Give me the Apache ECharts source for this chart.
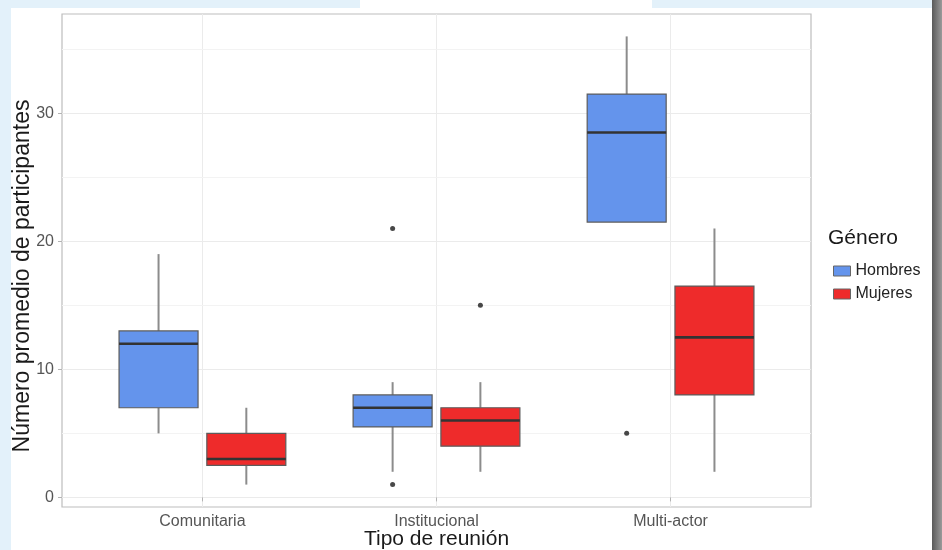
<!DOCTYPE html>
<html>
<head>
<meta charset="utf-8">
<script src="https://cdn.jsdelivr.net/npm/echarts@6/dist/echarts.min.js"></script>
<style>html,body{margin:0;padding:0;}#c{width:942px;height:550px;}</style>
</head>
<body>
<div id="c"></div>
<script>
// ---- data ----
const categories = ['Comunitaria', 'Institucional', 'Multi-actor'];
const groups = ['Hombres', 'Mujeres'];
// [min, Q1, median, Q3, max] per category
const hombresBox = [
  [5, 7, 12, 13, 19],
  [2, 5.5, 7, 8, 9],
  [21.5, 21.5, 28.5, 31.5, 36]
];
const mujeresBox = [
  [1, 2.5, 3, 5, 7],
  [2, 4, 6, 7, 9],
  [2, 8, 12.5, 16.5, 21]
];
const hombresOutliers = [[], [21, 1], [5]];
const mujeresOutliers = [[], [15], []];
const yTicks = [0, 10, 20, 30];
const yMinor = [5, 15, 25, 35];

// ---- style ----
const colors = {Hombres: '#6494ec', Mujeres: '#ee2b2b'};
const dodge = 0.1875;      // ggplot dodge offset (0.75/4)
const boxW = 0.3375;       // box width in category units

function boxItems(arr) {
  return arr.map((b, i) => [i + 1].concat(b));
}
function outlierPoints(arr, off) {
  const pts = [];
  arr.forEach((list, i) => list.forEach(v => pts.push([i + 1 + off, v])));
  return pts;
}
function makeRender(off, color) {
  return function (params, api) {
    const x = api.value(0) + off;
    const mn = api.value(1), q1 = api.value(2), md = api.value(3), q3 = api.value(4), mx = api.value(5);
    const l = api.coord([x - boxW / 2, q3]);
    const r = api.coord([x + boxW / 2, q1]);
    const c = api.coord([x, md]);
    const pMax = api.coord([x, mx]);
    const pMin = api.coord([x, mn]);
    const pQ3 = api.coord([x, q3]);
    const pQ1 = api.coord([x, q1]);
    const children = [];
    if (mx > q3) children.push({type: 'line', shape: {x1: pQ3[0], y1: pQ3[1], x2: pMax[0], y2: pMax[1]}, style: {stroke: '#8c8c8c', lineWidth: 2}});
    if (mn < q1) children.push({type: 'line', shape: {x1: pQ1[0], y1: pQ1[1], x2: pMin[0], y2: pMin[1]}, style: {stroke: '#8c8c8c', lineWidth: 2}});
    children.push({type: 'rect', shape: {x: l[0], y: l[1], width: r[0] - l[0], height: r[1] - l[1]}, style: {fill: color, stroke: '#5c5c5c', lineWidth: 1.2}});
    children.push({type: 'line', shape: {x1: l[0], y1: c[1], x2: r[0], y2: c[1]}, style: {stroke: '#333333', lineWidth: 2.6}});
    return {type: 'group', children: children};
  };
}

const chart = echarts.init(document.getElementById('c'), null, {renderer: 'canvas'});
const option = {
  backgroundColor: '#e3f1fa',
  animation: false,
  graphic: [
    {type: 'rect', z: -10, shape: {x: 11, y: 8, width: 921, height: 542}, style: {fill: '#ffffff'}},
    {type: 'rect', z: -10, shape: {x: 360, y: 0, width: 292, height: 8}, style: {fill: '#ffffff'}},
    {type: 'rect', z: -10, shape: {x: 932, y: 0, width: 10, height: 550},
      style: {fill: new echarts.graphic.LinearGradient(0, 0, 1, 0, [{offset: 0, color: '#5a5a5a'}, {offset: 1, color: '#9a9a9a'}])}},
    {type: 'text', left: 828, top: 228, style: {text: 'Género', fontSize: 21, fill: '#1a1a1a', fontFamily: 'Liberation Sans'}},
    {type: 'text', x: 23, y: 276, rotation: Math.PI / 2,
      style: {text: 'Número promedio de participantes', fontSize: 23, fill: '#1a1a1a', fontFamily: 'Liberation Sans',
        align: 'center', verticalAlign: 'middle'}}
  ],
  grid: {left: 62, right: 131, top: 14, bottom: 43, containLabel: false, outerBoundsMode: 'none',
    show: true, borderColor: '#bdbdbd', borderWidth: 1.2, backgroundColor: '#ffffff'},
  legend: {
    orient: 'vertical', left: 828, top: 258, itemWidth: 17, itemHeight: 10, itemGap: 7,
    icon: 'rect',
    textStyle: {fontSize: 16, color: '#222', fontFamily: 'Liberation Sans'},
    data: groups.map(g => ({name: g, itemStyle: {color: colors[g], borderColor: '#666', borderWidth: 1}}))
  },
  xAxis: {
    type: 'value', min: 0.4, max: 3.6,
    axisLine: {show: false},
    axisTick: {show: true, customValues: [1, 2, 3], length: 4, lineStyle: {color: '#b3b3b3'}},
    axisLabel: {customValues: [1, 2, 3], formatter: v => categories[Math.round(v) - 1], fontSize: 16, color: '#555', margin: 7, fontFamily: 'Liberation Sans'},
    splitLine: {show: true, lineStyle: {color: '#ebebeb', width: 1}},
    name: 'Tipo de reunión', nameLocation: 'middle', nameGap: 22, nameMoveOverlap: false,
    nameTextStyle: {fontSize: 21, color: '#1a1a1a', fontFamily: 'Liberation Sans'}
  },
  yAxis: {
    type: 'value', min: -0.75, max: 37.75,
    axisLine: {show: false},
    axisTick: {show: true, customValues: yTicks, length: 4, lineStyle: {color: '#b3b3b3'}},
    axisLabel: {customValues: yTicks, fontSize: 16, color: '#555', margin: 8, fontFamily: 'Liberation Sans'},
    splitLine: {show: true, lineStyle: {color: '#ebebeb', width: 1}}
  },
  series: [
    {
      type: 'scatter', name: '_minor', data: [], silent: true, z: 1,
      markLine: {silent: true, z: 1, symbol: 'none', label: {show: false}, animation: false,
        lineStyle: {color: '#f3f3f3', type: 'solid', width: 1},
        data: yMinor.map(v => ({yAxis: v}))}
    },
    {
      type: 'custom', name: 'Hombres', renderItem: makeRender(-dodge, colors.Hombres),
      itemStyle: {color: colors.Hombres}, encode: {x: 0, y: [1, 2, 3, 4, 5]},
      data: boxItems(hombresBox), z: 3
    },
    {
      type: 'custom', name: 'Mujeres', renderItem: makeRender(dodge, colors.Mujeres),
      itemStyle: {color: colors.Mujeres}, encode: {x: 0, y: [1, 2, 3, 4, 5]},
      data: boxItems(mujeresBox), z: 3
    },
    {
      type: 'scatter', name: 'outH', data: outlierPoints(hombresOutliers, -dodge), symbolSize: 5,
      itemStyle: {color: '#1a1a1a'}, z: 6, silent: true
    },
    {
      type: 'scatter', name: 'outM', data: outlierPoints(mujeresOutliers, dodge), symbolSize: 5,
      itemStyle: {color: '#1a1a1a'}, z: 6, silent: true
    }
  ]
};
chart.setOption(option);
</script>
</body>
</html>
